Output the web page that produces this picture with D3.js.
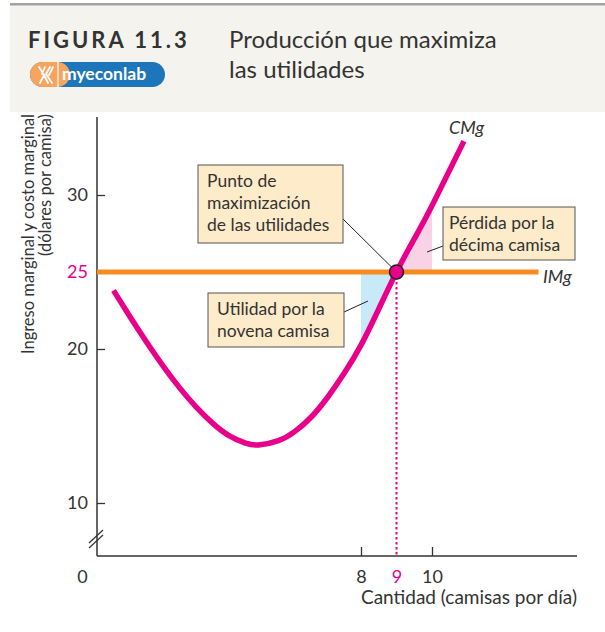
<!DOCTYPE html>
<html>
<head>
<meta charset="utf-8">
<script src="https://cdn.jsdelivr.net/npm/d3@7"></script>
<style>
  body { margin: 0; background: #fff; }
  svg { display: block; font-family: Lato, "Open Sans", sans-serif; }
</style>
</head>
<body>
<svg id="chart" width="605" height="632"></svg>
<script>
// Marginal cost curve (CMg)
const quantity = [0.5, 1, 1.5, 2, 2.5, 3, 3.5, 4, 4.5, 4.9, 5.5, 6, 6.5, 7, 7.5, 8, 8.5, 9, 9.5, 10, 10.9];
const marginalCost = [23.8, 22.1, 20.46, 18.91, 17.49, 16.24, 15.19, 14.38, 13.89, 13.77, 14.05, 14.65, 15.6, 16.9, 18.45, 20.25, 22.6, 25, 27.15, 29.3, 33.5];

// Marginal revenue (IMg) = price, flat
const marginalRevenue = 25;
const mrQuantity = [0, 13];
const bestQuantity = 9;

// Ticks
const yTicks = [10, 20, 25, 30];
const xTicks = [0, 8, 9, 10];

// Callout texts
const noteMax = ["Punto de", "maximización", "de las utilidades"];
const noteLoss = ["Pérdida por la", "décima camisa"];
const noteGain = ["Utilidad por la", "novena camisa"];

const svg = d3.select("#chart");
const magenta = "#e8008a",
    orange = "#f68b1f",
    ink = "#333";

// Header band
svg.append("rect").attr("x", 10).attr("y", 5).attr("width", 595).attr("height", 107).attr("fill", "#f5f3ee");
svg.append("rect").attr("x", 10).attr("y", 3).attr("width", 595).attr("height", 2.5).attr("fill", "#a3a3a3");

svg.append("text")
    .attr("x", 28).attr("y", 48)
    .style("font-size", "22px").style("font-weight", "bold").style("letter-spacing", "3px")
    .style("fill", ink)
    .text("FIGURA 11.3");

svg.append("text")
    .attr("x", 229).attr("y", 48)
    .style("font-size", "24px").style("fill", ink)
    .text("Producción que maximiza");
svg.append("text")
    .attr("x", 229).attr("y", 78)
    .style("font-size", "24px").style("fill", ink)
    .text("las utilidades");

// myeconlab badge
const logo = svg.append("g").attr("transform", "translate(30,62)");
logo.append("rect").attr("width", 135).attr("height", 25).attr("rx", 12.5).attr("fill", "#1c76b9");
logo.append("rect").attr("width", 40).attr("height", 25).attr("rx", 12.5).attr("fill", "#f6a45e");
logo.append("rect").attr("x", 18).attr("width", 10).attr("height", 25).attr("fill", "#f6a45e");
logo.append("line").attr("x1", 28).attr("x2", 28).attr("y1", 0).attr("y2", 25).attr("stroke", "#fff").attr("stroke-width", 1.2);
logo.append("path")
    .attr("d", "M9,5 L14,13 L10,21 M15,5 L12,12 M14,13 L18,21 M20,5 L16,12 L22,21 M23,5 L19,13")
    .attr("fill", "none").attr("stroke", "#fff").attr("stroke-width", 1.8).attr("stroke-linecap", "round");
logo.append("text")
    .attr("x", 32).attr("y", 18)
    .style("font-size", "17.5px").style("font-weight", "bold").style("fill", "#fff")
    .text("myeconlab");

// Scales (the axes are broken near the origin)
const x = d3.scaleLinear().domain([0, 8, 14]).range([97, 361, 574]);
const y = d3.scaleLinear().domain([0, 10, 35]).range([556, 503, 118]);

const mcData = quantity.map((q, i) => ({ q: q, c: marginalCost[i] }));
const smooth = d3.curveNatural;

// Profit / loss wedges
const defs = svg.append("defs");
defs.append("clipPath").attr("id", "clip-gain")
    .append("rect").attr("x", x(8)).attr("y", 0).attr("width", x(9) - x(8)).attr("height", 632);
defs.append("clipPath").attr("id", "clip-loss")
    .append("rect").attr("x", x(9)).attr("y", 0).attr("width", x(10) - x(9)).attr("height", 632);

const wedge = d3.area()
    .x(d => x(d.q))
    .y0(y(marginalRevenue))
    .y1(d => y(d.c))
    .curve(smooth);

svg.append("path").datum(mcData).attr("d", wedge)
    .attr("fill", "#c8e9f8").attr("clip-path", "url(#clip-gain)");
svg.append("path").datum(mcData).attr("d", wedge)
    .attr("fill", "#f9d2e6").attr("clip-path", "url(#clip-loss)");

// Axes
const yAxis = svg.append("g")
    .attr("transform", `translate(${x(0)},0)`)
    .call(d3.axisLeft(y).tickValues(yTicks).tickSize(-8).tickPadding(9).tickFormat(d3.format("d")));
const xAxis = svg.append("g")
    .attr("transform", `translate(0,${y(0)})`)
    .call(d3.axisBottom(x).tickValues(xTicks).tickSize(-9).tickPadding(14).tickFormat(d3.format("d")));

[yAxis, xAxis].forEach(ax => {
    ax.select(".domain").remove();
    ax.selectAll("text").style("font-size", "18px").style("fill", ink).style("font-family", "Lato, sans-serif");
    ax.selectAll("line").attr("stroke", ink).attr("stroke-width", 1.3);
});
yAxis.selectAll(".tick").filter(d => d === marginalRevenue)
    .call(t => { t.select("line").remove(); t.select("text").style("fill", magenta); });
xAxis.selectAll(".tick").filter(d => d === bestQuantity || d === 0)
    .call(t => t.select("line").remove());
xAxis.selectAll(".tick").filter(d => d === bestQuantity).select("text").style("fill", magenta);
xAxis.selectAll(".tick").filter(d => d === 0).select("text").attr("x", -15);

svg.append("line")
    .attr("x1", x(0)).attr("x2", x(0)).attr("y1", 117).attr("y2", y(0))
    .attr("stroke", ink).attr("stroke-width", 1.5);
svg.append("line")
    .attr("x1", x(0)).attr("x2", 577).attr("y1", y(0)).attr("y2", y(0))
    .attr("stroke", ink).attr("stroke-width", 1.5);

// axis break marks
[0, 5].forEach(o => {
    svg.append("line")
        .attr("x1", x(0) - 8).attr("y1", 548 - o).attr("x2", x(0) + 6).attr("y2", 535 - o)
        .attr("stroke", ink).attr("stroke-width", 1.2);
});

// Axis titles
svg.append("text")
    .attr("transform", "translate(34,114) rotate(-90)")
    .attr("text-anchor", "end")
    .style("font-size", "16.5px").style("fill", ink)
    .text("Ingreso marginal y costo marginal");
svg.append("text")
    .attr("transform", "translate(51,114) rotate(-90)")
    .attr("text-anchor", "end")
    .style("font-size", "16.5px").style("fill", ink)
    .text("(dólares por camisa)");

svg.append("text")
    .attr("x", 577).attr("y", 604)
    .attr("text-anchor", "end")
    .style("font-size", "19px").style("fill", ink)
    .text("Cantidad (camisas por día)");

// Dotted drop line at the best output
svg.append("line")
    .attr("x1", x(bestQuantity)).attr("x2", x(bestQuantity))
    .attr("y1", y(marginalRevenue)).attr("y2", y(0))
    .attr("stroke", magenta).attr("stroke-width", 2).attr("stroke-dasharray", "2.5,2.5");

// IMg line
svg.append("line")
    .attr("x1", x(mrQuantity[0])).attr("x2", x(mrQuantity[1]))
    .attr("y1", y(marginalRevenue)).attr("y2", y(marginalRevenue))
    .attr("stroke", orange).attr("stroke-width", 5);

// CMg curve
svg.append("path")
    .datum(mcData)
    .attr("d", d3.line().x(d => x(d.q)).y(d => y(d.c)).curve(smooth))
    .attr("fill", "none").attr("stroke", magenta).attr("stroke-width", 5.5);

svg.append("text")
    .attr("x", 449).attr("y", 134)
    .style("font-size", "18px").style("font-style", "italic").style("fill", ink)
    .text("CMg");
svg.append("text")
    .attr("x", 543).attr("y", 283)
    .style("font-size", "18px").style("font-style", "italic").style("fill", ink)
    .text("IMg");

// Callouts
function callout(lines, bx, by, bw, bh, pad, from, to) {
    svg.append("line")
        .attr("x1", from[0]).attr("y1", from[1]).attr("x2", to[0]).attr("y2", to[1])
        .attr("stroke", "#222").attr("stroke-width", 1);
    svg.append("rect")
        .attr("x", bx).attr("y", by).attr("width", bw).attr("height", bh)
        .attr("fill", "#fdebca").attr("stroke", "#555").attr("stroke-width", 1);
    lines.forEach((l, i) => {
        svg.append("text")
            .attr("x", bx + pad).attr("y", by + 22 + i * 22)
            .style("font-size", "17.5px").style("fill", ink)
            .text(l);
    });
}

callout(noteMax, 198, 165, 145, 78, 9, [343, 219], [x(bestQuantity) - 3, y(marginalRevenue) - 3]);
callout(noteLoss, 443, 207, 132, 53, 6, [443, 246], [427, 252]);
callout(noteGain, 208, 293, 136, 54, 9, [344, 312], [368, 301]);

// Profit-maximizing point
svg.append("circle")
    .attr("cx", x(bestQuantity)).attr("cy", y(marginalRevenue)).attr("r", 7)
    .attr("fill", magenta).attr("stroke", "#222").attr("stroke-width", 1.5);
</script>
</body>
</html>
